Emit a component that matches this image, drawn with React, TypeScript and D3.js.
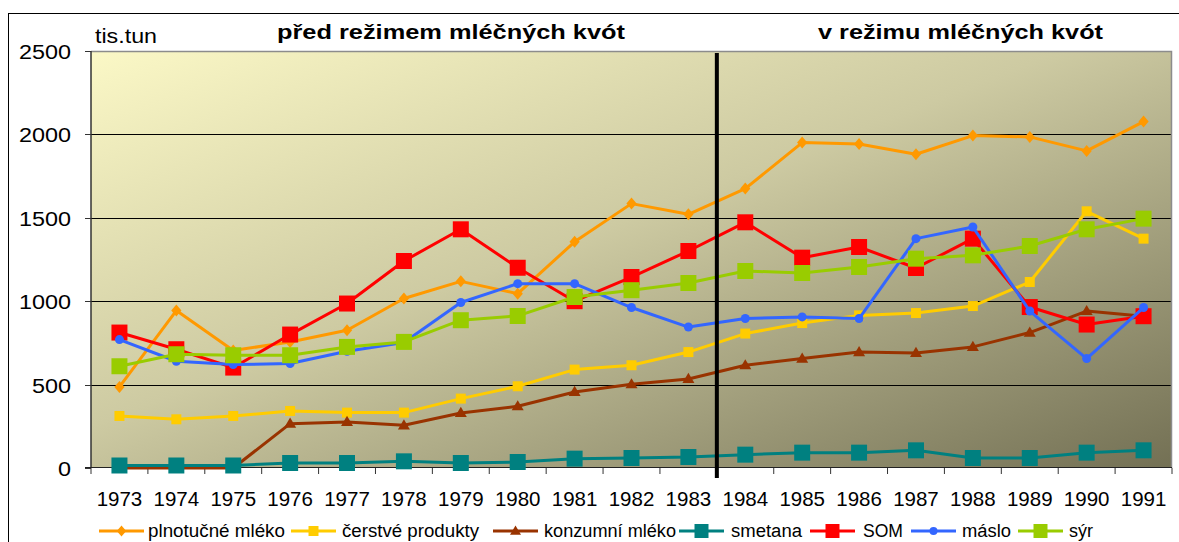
import * as d3 from 'd3'

const years = ['1973', '1974', '1975', '1976', '1977', '1978', '1979', '1980', '1981', '1982',
  '1983', '1984', '1985', '1986', '1987', '1988', '1989', '1990', '1991']

const plnotucne = [486, 944, 705, 755, 826, 1016, 1119, 1045, 1356, 1585, 1521, 1675, 1951, 1943, 1881, 1993, 1985, 1901, 2077]
const cerstve = [312, 292, 312, 342, 332, 332, 416, 490, 590, 616, 695, 806, 869, 915, 929, 971, 1115, 1539, 1375]
const konzumni = [0, 0, 0, 266, 276, 256, 330, 370, 456, 502, 534, 616, 656, 695, 690, 726, 812, 941, 910]
const smetana = [15, 15, 15, 30, 30, 40, 30, 36, 56, 60, 66, 80, 92, 92, 106, 60, 60, 92, 106]
const som = [812, 712, 602, 800, 986, 1241, 1431, 1201, 1000, 1145, 1301, 1473, 1261, 1325, 1199, 1375, 965, 860, 910]
const maslo = [770, 640, 620, 626, 700, 752, 992, 1105, 1105, 962, 845, 896, 906, 896, 1375, 1445, 941, 656, 962]
const syr = [610, 682, 676, 676, 726, 756, 886, 912, 1025, 1066, 1109, 1181, 1169, 1205, 1255, 1275, 1331, 1431, 1495]

const yTicks = [0, 500, 1000, 1500, 2000, 2500]
const periodTitles = ['před režimem mléčných kvót', 'v režimu mléčných kvót']

type Marker = 'diamond' | 'square' | 'triangle' | 'circle'

const series: { name: string; values: number[]; color: string; marker: Marker; size: number }[] = [
  { name: 'plnotučné mléko', values: plnotucne, color: '#FF9900', marker: 'diamond', size: 6 },
  { name: 'čerstvé produkty', values: cerstve, color: '#FFCC00', marker: 'square', size: 10 },
  { name: 'konzumní mléko', values: konzumni, color: '#993300', marker: 'triangle', size: 12 },
  { name: 'smetana', values: smetana, color: '#008080', marker: 'square', size: 16 },
  { name: 'SOM', values: som, color: '#FF0000', marker: 'square', size: 16 },
  { name: 'máslo', values: maslo, color: '#3366FF', marker: 'circle', size: 9 },
  { name: 'sýr', values: syr, color: '#99CC00', marker: 'square', size: 16 },
]

// legend layout (line start, text start, text width) as in the source slide
const legendLineX = [99, 291, 493, 679, 810, 911, 1018]
const legendTextX = [148, 342, 544, 731, 863, 962, 1069]
const legendTextW = [137, 137, 132, 71, 40, 49, 24]

const W = 1179
const H = 542
const plot = { left: 91, right: 1172, top: 51, bottom: 468 }
const font = '"Liberation Sans", Arial, sans-serif'

function markerPath(kind: Marker, cx: number, cy: number, s: number): string {
  if (kind === 'square') {
    const h = s / 2
    return `M${cx - h},${cy - h}h${s}v${s}h${-s}Z`
  }
  if (kind === 'diamond') {
    return `M${cx},${cy - s}L${cx + s * 0.85},${cy}L${cx},${cy + s}L${cx - s * 0.85},${cy}Z`
  }
  if (kind === 'triangle') {
    const h = s * 0.85
    return `M${cx},${cy - h * 0.6}L${cx + s / 2},${cy + h * 0.4}L${cx - s / 2},${cy + h * 0.4}Z`
  }
  const r = s / 2
  return `M${cx - r},${cy}a${r},${r} 0 1,0 ${2 * r},0a${r},${r} 0 1,0 ${-2 * r},0Z`
}

export default function App() {
  const x = d3.scaleBand<string>().domain(years).range([plot.left, plot.right])
  const y = d3.scaleLinear().domain([0, 2500]).range([plot.bottom, plot.top])
  const cx = (yr: string) => (x(yr) ?? 0) + x.bandwidth() / 2

  const line = d3.line<number>()
    .x((_, i) => cx(years[i]))
    .y(d => y(d))

  const divX = x('1984') ?? 0

  return (
    <svg width={W} height={H} style={{ position: 'absolute', left: 0, top: 0, background: '#fff' }}
      fontFamily={font}>
      <defs>
        <linearGradient id="bg" x1="0" y1="0" x2="1" y2="1">
          <stop offset="0%" stopColor="#FBF8C6" />
          <stop offset="45%" stopColor="#CDCAA2" />
          <stop offset="100%" stopColor="#737054" />
        </linearGradient>
      </defs>

      {/* outer frame */}
      <rect x={8.5} y={13.5} width={W + 20} height={H + 20} fill="none" stroke="#000" strokeWidth={1} />

      {/* plot area */}
      <rect x={plot.left} y={plot.top} width={plot.right - plot.left} height={plot.bottom - plot.top}
        fill="url(#bg)" />

      {/* grid lines */}
      {yTicks.filter(t => t > 0 && t < 2500).map(t => (
        <line key={t} x1={plot.left} x2={plot.right} y1={Math.round(y(t)) + 0.5} y2={Math.round(y(t)) + 0.5}
          stroke="#000" strokeWidth={1} />
      ))}
      <path d={`M${plot.left},${plot.top + 0.5}H${plot.right - 0.5}V${plot.bottom}`} fill="none"
        stroke="#8c8c8c" strokeWidth={1.5} />

      {/* axes */}
      <line x1={plot.left} x2={plot.left} y1={plot.top} y2={plot.bottom} stroke="#333" strokeWidth={1.5} />
      <line x1={plot.left - 6} x2={plot.right} y1={plot.bottom - 0.5} y2={plot.bottom - 0.5} stroke="#222" strokeWidth={1.2} />
      {yTicks.map(t => (
        <line key={'yt' + t} x1={plot.left - 6} x2={plot.left} y1={Math.round(y(t)) + 0.5} y2={Math.round(y(t)) + 0.5}
          stroke="#333" strokeWidth={1} />
      ))}
      {years.concat(['end']).map((yr, i) => {
        const tx = i < years.length ? (x(yr) ?? 0) : plot.right
        return <line key={'xt' + i} x1={tx} x2={tx} y1={plot.bottom} y2={plot.bottom + 6} stroke="#333" strokeWidth={1} />
      })}

      {/* y labels */}
      {yTicks.map(t => {
        const s = String(t)
        return (
          <text key={'yl' + t} x={71} y={y(t) + 8} fontSize={20} textAnchor="end"
            textLength={s.length * 13} lengthAdjust="spacingAndGlyphs" fill="#000">{s}</text>
        )
      })}

      {/* x labels */}
      {years.map(yr => (
        <text key={'xl' + yr} x={cx(yr)} y={506} fontSize={20.5} textAnchor="middle" fill="#000">{yr}</text>
      ))}

      {/* series */}
      {series.map(s => (
        <g key={s.name}>
          <path d={line(s.values) ?? ''} fill="none" stroke={s.color} strokeWidth={3} strokeLinejoin="round" />
          {s.values.map((v, i) => (
            <path key={i} d={markerPath(s.marker, cx(years[i]), y(v), s.size)} fill={s.color} />
          ))}
        </g>
      ))}

      {/* quota regime divider */}
      <rect x={divX - 2} y={53} width={4} height={425} fill="#000" />

      {/* titles */}
      <text x={95} y={42.5} fontSize={20} textLength={62} lengthAdjust="spacingAndGlyphs" fill="#000">tis.tun</text>
      <text x={277} y={39} fontSize={21} fontWeight="bold" textLength={348} lengthAdjust="spacingAndGlyphs"
        fill="#000">{periodTitles[0]}</text>
      <text x={818} y={39} fontSize={21} fontWeight="bold" textLength={285} lengthAdjust="spacingAndGlyphs"
        fill="#000">{periodTitles[1]}</text>

      {/* legend */}
      {series.map((s, i) => {
        const lx = legendLineX[i]
        const ly = 531
        const msize = s.marker === 'diamond' ? 5.5 : s.marker === 'circle' ? 8 : s.marker === 'triangle' ? 11 : s.size === 16 ? 14 : 10
        return (
          <g key={'lg' + s.name}>
            <line x1={lx} x2={lx + 45} y1={ly} y2={ly} stroke={s.color} strokeWidth={3} />
            <path d={markerPath(s.marker, lx + 22.5, ly, msize)} fill={s.color} />
            <text x={legendTextX[i]} y={537} fontSize={18} textLength={legendTextW[i]}
              lengthAdjust="spacingAndGlyphs" fill="#000">{s.name}</text>
          </g>
        )
      })}
    </svg>
  )
}
